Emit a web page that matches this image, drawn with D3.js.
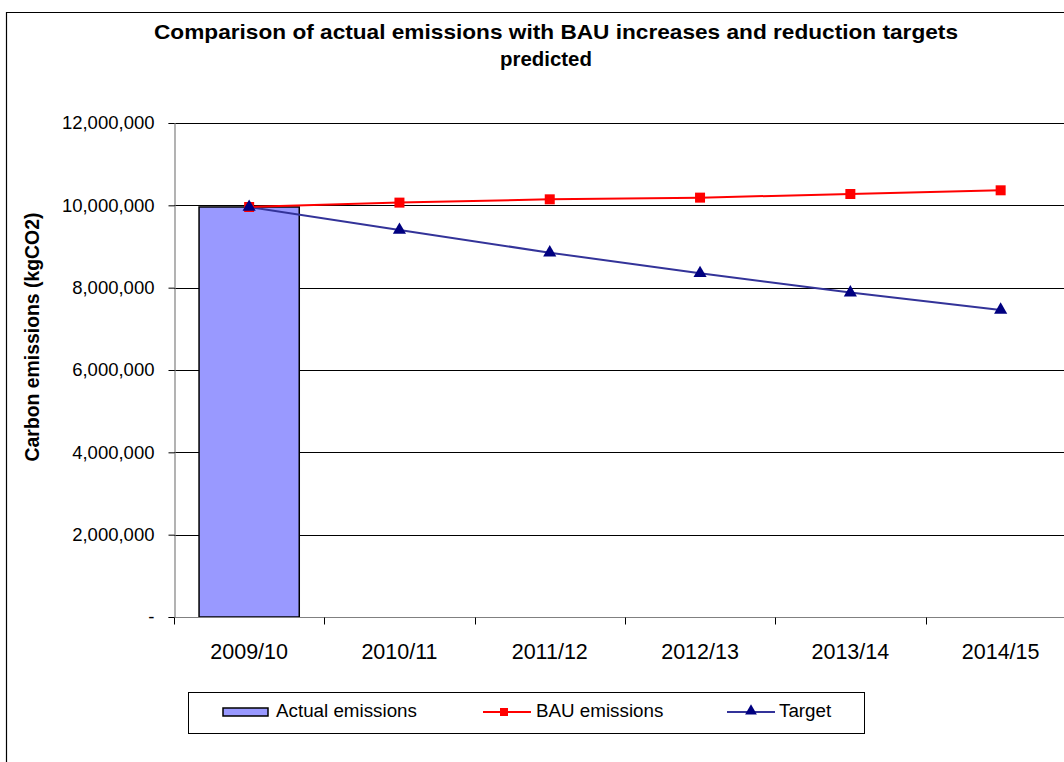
<!DOCTYPE html>
<html>
<head>
<meta charset="utf-8">
<script src="https://cdn.jsdelivr.net/npm/d3@7"></script>
<style>
  html, body { margin: 0; padding: 0; background: #fff; }
  svg { display: block; }
  text { font-family: "Liberation Sans", Arial, sans-serif; fill: #000; }
</style>
</head>
<body>
<svg id="chart" width="1064" height="762"></svg>
<script>
// ---- data ----
const categories = ["2009/10", "2010/11", "2011/12", "2012/13", "2013/14", "2014/15"];
const actualEmissions = [9960000, null, null, null, null, null];
const bauEmissions = [9960000, 10066000, 10146000, 10187000, 10275000, 10365000];
const targetEmissions = [9960000, 9400000, 8850000, 8350000, 7880000, 7460000];
const yTicks = [0, 2000000, 4000000, 6000000, 8000000, 10000000, 12000000];
const titleLines = ["Comparison of actual emissions with BAU increases and reduction targets", "predicted"];
const yTitle = "Carbon emissions (kgCO2)";
const legendLabels = ["Actual emissions", "BAU emissions", "Target"];

// ---- layout ----
const svg = d3.select("#chart");
const plot = { left: 174, top: 123, bottom: 617, band: 150.3 };
const x = d3.scaleBand().domain(categories)
  .range([plot.left, plot.left + plot.band * categories.length]).padding(0);
const y = d3.scaleLinear().domain([0, 12000000]).range([plot.bottom, plot.top]);
const plotRight = 1064;

// outer chart border
svg.append("path")
  .attr("d", `M6.5,762 L6.5,12.5 L1064,12.5`)
  .attr("fill", "none").attr("stroke", "#000").attr("stroke-width", 1.2);

// title
const title = svg.append("text").attr("text-anchor", "middle")
  .style("font-weight", "bold").style("font-size", "20.4px");
title.append("tspan").attr("x", 556).attr("y", 39)
  .attr("textLength", 804).attr("lengthAdjust", "spacingAndGlyphs").text(titleLines[0]);
title.append("tspan").attr("x", 546).attr("y", 66).text(titleLines[1]);

// gridlines
svg.append("g").selectAll("line").data(yTicks.filter(d => d > 0)).join("line")
  .attr("x1", plot.left).attr("x2", plotRight)
  .attr("y1", d => Math.round(y(d)) + 0.5).attr("y2", d => Math.round(y(d)) + 0.5)
  .attr("stroke", "#000").attr("stroke-width", 1);

// bars
svg.append("g").selectAll("rect")
  .data(categories.map((c, i) => ({ c, v: actualEmissions[i] })).filter(d => d.v != null))
  .join("rect")
  .attr("x", d => x(d.c) + x.bandwidth() * 0.1667)
  .attr("width", x.bandwidth() * 0.6667)
  .attr("y", d => y(d.v))
  .attr("height", d => y(0) - y(d.v))
  .attr("fill", "#9999FF").attr("stroke", "#000").attr("stroke-width", 1.5);

// y axis
const yAxis = d3.axisLeft(y).tickValues(yTicks).tickSize(6).tickPadding(14)
  .tickFormat(d => d === 0 ? "-" : d3.format(",")(d));
const yg = svg.append("g").attr("transform", `translate(${plot.left + 0.5},0)`).call(yAxis);
yg.select(".domain").attr("stroke", "#808080").attr("stroke-width", 1.2);
yg.selectAll(".tick line").attr("stroke", "#000");
yg.selectAll(".tick text").style("font-size", "18.5px").attr("fill", "#000")
  .style("font-family", "'Liberation Sans', Arial, sans-serif");

// x axis
const xAxis = d3.axisBottom(x).tickSize(0).tickPadding(0);
const xg = svg.append("g").attr("transform", `translate(0,${plot.bottom + 0.5})`).call(xAxis);
xg.select(".domain").attr("d", `M${plot.left},0H${plotRight}`).attr("stroke", "#808080").attr("stroke-width", 1.2);
xg.selectAll(".tick text").attr("y", 41).attr("dy", 0)
  .style("font-size", "21.5px").style("font-family", "'Liberation Sans', Arial, sans-serif").attr("fill", "#000");
// boundary ticks between categories
xg.append("g").selectAll("line").data(categories).join("line")
  .attr("x1", d => Math.round(x(d)) + 0.5).attr("x2", d => Math.round(x(d)) + 0.5)
  .attr("y1", 0).attr("y2", 7).attr("stroke", "#000");

// lines
const cx = d => x(d) + x.bandwidth() / 2;
const lineGen = d3.line().x(d => cx(d.c)).y(d => y(d.v));
const bauData = categories.map((c, i) => ({ c, v: bauEmissions[i] }));
const tgtData = categories.map((c, i) => ({ c, v: targetEmissions[i] }));

svg.append("path").datum(tgtData).attr("d", lineGen)
  .attr("fill", "none").attr("stroke", "#333399").attr("stroke-width", 2);
svg.append("path").datum(bauData).attr("d", lineGen)
  .attr("fill", "none").attr("stroke", "#FF0000").attr("stroke-width", 2);

const sq = d3.symbol().type(d3.symbolSquare).size(100);
const tri = d3.symbol().type(d3.symbolTriangle).size(75);

svg.append("g").selectAll("path").data(bauData).join("path")
  .attr("transform", d => `translate(${cx(d.c)},${y(d.v)})`)
  .attr("d", sq).attr("fill", "#FF0000");
svg.append("g").selectAll("path").data(tgtData).join("path")
  .attr("transform", d => `translate(${cx(d.c)},${y(d.v)})`)
  .attr("d", tri).attr("fill", "#000080");

// y axis title
svg.append("text")
  .attr("transform", `translate(39,${(plot.top + plot.bottom) / 2 - 33}) rotate(-90)`)
  .attr("text-anchor", "middle")
  .style("font-weight", "bold").style("font-size", "19.4px")
  .text(yTitle);

// legend
const lg = svg.append("g");
lg.append("rect").attr("x", 188.5).attr("y", 692.5).attr("width", 676).attr("height", 41)
  .attr("fill", "#fff").attr("stroke", "#000").attr("stroke-width", 1);
const legendFont = "18.8px";
// actual
lg.append("rect").attr("x", 223).attr("y", 708).attr("width", 45).attr("height", 8)
  .attr("fill", "#9999FF").attr("stroke", "#000").attr("stroke-width", 1.5);
lg.append("text").attr("x", 276).attr("y", 717).style("font-size", legendFont).text(legendLabels[0]);
// BAU
lg.append("line").attr("x1", 483).attr("x2", 531).attr("y1", 712).attr("y2", 712)
  .attr("stroke", "#FF0000").attr("stroke-width", 2);
lg.append("path").attr("transform", "translate(504,712)").attr("d", d3.symbol().type(d3.symbolSquare).size(64)).attr("fill", "#FF0000");
lg.append("text").attr("x", 536).attr("y", 717).style("font-size", legendFont).text(legendLabels[1]);
// Target
lg.append("line").attr("x1", 727).attr("x2", 775).attr("y1", 712).attr("y2", 712)
  .attr("stroke", "#333399").attr("stroke-width", 2);
lg.append("path").attr("transform", "translate(751,711)").attr("d", d3.symbol().type(d3.symbolTriangle).size(60)).attr("fill", "#000080");
lg.append("text").attr("x", 779).attr("y", 717).style("font-size", legendFont).text(legendLabels[2]);
</script>
</body>
</html>
